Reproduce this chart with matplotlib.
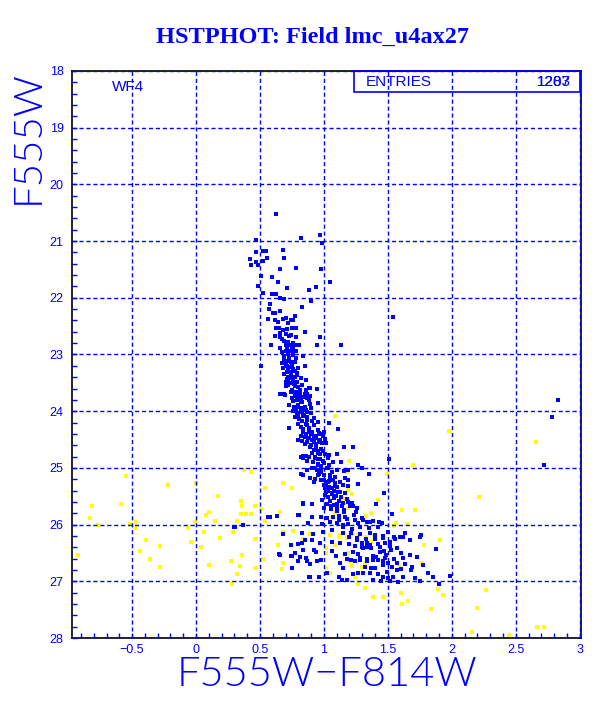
import matplotlib
matplotlib.use("Agg")
import matplotlib.pyplot as plt
from matplotlib.patches import Rectangle
from matplotlib.ticker import MultipleLocator

# ---- data (colour F555W-F814W, magnitude F555W) ----
# good photometry (blue)
blue_color = [
    0.625, 0.966, 0.818, 0.469, 0.987, 0.523, 0.547, 0.677, 0.469, 0.422,
    0.552, 0.687, 0.469, 0.521, 0.430, 0.484, 0.656, 0.784, 0.974, 0.508,
    0.591, 0.643, 1.047, 0.484, 0.708, 0.940, 0.883, 0.523, 0.594, 0.625,
    0.656, 0.685, 0.896, 0.578, 0.568, 0.826, 0.604, 0.620, 0.656, 0.771,
    0.563, 0.617, 0.638, 0.677, 0.703, 0.742, 0.755, 0.716, 0.625, 0.648,
    0.677, 0.708, 0.750, 0.779, 0.849, 0.617, 0.656, 0.672, 0.727, 0.784,
    0.966, 1.133, 0.588, 0.703, 0.734, 0.755, 0.784, 0.805, 0.943, 0.672,
    0.703, 0.734, 0.760, 0.779, 0.690, 0.721, 0.755, 0.838, 0.690, 0.713,
    0.742, 0.776, 0.508, 0.682, 0.713, 0.729, 0.800, 0.854, 0.708, 0.742,
    0.773, 0.786, 0.716, 0.742, 0.773, 0.703, 0.734, 0.766, 0.790, 0.859,
    0.703, 0.776, 0.794, 0.890, 0.747, 0.779, 0.805, 0.865, 0.943, 0.656,
    0.695, 0.812, 0.852, 0.786, 0.820, 0.870, 1.540,
    # 23.5 - 25
    0.716, 0.755, 0.786, 0.800, 0.742, 0.773, 0.812, 0.852, 0.885, 0.656,
    0.688, 0.747, 0.786, 0.820, 0.890, 0.950, 0.730, 0.765, 0.800, 0.817,
    0.860, 0.760, 0.786, 0.825, 0.846, 0.896, 0.773, 0.807, 0.870, 0.950,
    1.040, 0.727, 0.820, 0.864, 0.885, 0.833, 0.890, 0.910, 0.963, 1.002,
    1.112, 0.820, 0.850, 0.872, 0.930, 0.970, 0.995, 0.794, 0.825, 0.910,
    0.937, 0.970, 1.008, 0.852, 0.898, 0.937, 0.982, 0.922, 0.956, 0.969,
    0.995, 1.159, 1.229, 0.838, 0.883, 0.930, 0.956, 0.990, 1.039, 1.104,
    0.870, 0.917, 0.950, 1.000, 1.073, 1.133, 0.820, 0.840, 0.860,
    # 25 - 26
    0.818, 0.865, 0.904, 0.948, 0.974, 1.021, 1.060, 1.099, 1.156, 1.190,
    1.268, 1.294, 1.354, 1.510, 0.890, 0.930, 0.956, 1.003, 1.047, 1.086,
    1.164, 0.922, 1.013, 1.042, 1.086, 1.125, 1.151, 1.190, 1.008, 1.034,
    1.060, 1.078, 1.099, 1.060, 1.094, 1.125, 1.164, 1.008, 1.190, 1.263,
    0.982, 0.904, 1.021, 1.052, 1.099, 1.151, 1.190, 1.229, 1.255, 1.410,
    1.471, 0.833, 1.003, 1.055, 1.104, 1.159, 1.203, 0.578, 0.630, 0.800,
    0.904, 0.974, 1.021, 1.068, 1.120, 1.164, 1.234, 0.833, 0.833, 0.805,
    0.565,
    # 26 - 27.1
    0.305, 0.370, 0.878, 0.982, 1.047, 1.099, 1.146, 1.190, 1.268, 1.307,
    1.333, 1.359, 1.385, 1.432, 1.458, 1.536, 0.825, 0.917, 0.995, 1.060,
    1.151, 1.208, 1.281, 1.359, 1.398, 1.463, 1.502, 1.549, 1.594, 1.633,
    1.763, 0.740, 0.825, 0.904, 0.969, 1.060, 1.125, 1.198, 1.255, 1.294,
    1.333, 1.359, 1.424, 1.476, 1.515, 1.555, 1.620, 1.672, 1.750, 0.651,
    0.747, 0.812, 0.937, 1.060, 1.094, 1.164, 1.229, 1.268, 1.307, 1.333,
    1.385, 1.437, 1.471, 1.489, 1.528, 1.568, 1.599, 1.672, 1.724, 1.875,
    0.794, 0.890, 0.948, 1.125, 1.177, 1.208, 1.242, 1.281, 1.333, 1.385,
    1.424, 1.463, 1.502, 1.568, 1.633, 1.685, 1.776, 0.890, 0.963, 1.021,
    1.138, 1.177, 1.224, 1.268, 1.307, 1.359, 1.424, 1.463, 1.502, 1.541,
    1.620, 1.711, 1.815, 1.854, 1.901, 1.984, 1.568, 1.490, 1.372, 1.151,
    0.297, 0.365, 0.682, 0.826, 0.849, 0.800, 0.659, 0.740, 0.794, 0.747,
    0.867, 0.885, 0.773, 0.836,
    # red outliers
    2.830, 2.780, 2.720,
]
blue_mag = [
    20.53, 20.89, 20.94, 20.98, 21.03, 21.17, 21.17, 21.15, 21.20, 21.32,
    21.29, 21.29, 21.36, 21.35, 21.43, 21.42, 21.49, 21.47, 21.50, 21.62,
    21.63, 21.72, 21.73, 21.79, 21.82, 21.81, 21.87, 21.91, 21.94, 21.93,
    22.00, 22.03, 22.05, 22.11, 22.19, 22.17, 22.26, 22.26, 22.24, 22.32,
    22.37, 22.39, 22.42, 22.38, 22.36, 22.39, 22.39, 22.45, 22.54, 22.53,
    22.57, 22.55, 22.54, 22.53, 22.60, 22.67, 22.70, 22.72, 22.67, 22.70,
    22.70, 22.83, 22.83, 22.84, 22.83, 22.86, 22.83, 22.84, 22.84, 22.95,
    22.94, 22.94, 22.93, 22.94, 23.02, 23.00, 23.01, 23.02, 23.10, 23.12,
    23.13, 23.13, 23.20, 23.23, 23.20, 23.22, 23.23, 23.20, 23.30, 23.30,
    23.29, 23.32, 23.39, 23.41, 23.39, 23.48, 23.50, 23.48, 23.48, 23.45,
    23.56, 23.56, 23.58, 23.59, 23.66, 23.67, 23.67, 23.69, 23.61, 23.70,
    23.71, 23.71, 23.70, 23.76, 23.77, 23.77, 22.34,
    # 23.5 - 25
    23.48, 23.48, 23.48, 23.57, 23.66, 23.69, 23.69, 23.71, 23.59, 23.70,
    23.70, 23.77, 23.80, 23.83, 23.87, 23.85, 23.89, 23.92, 23.89, 23.95,
    23.97, 23.99, 24.03, 23.99, 24.06, 24.04, 24.11, 24.13, 24.10, 24.19,
    24.21, 24.29, 24.27, 24.24, 24.29, 24.36, 24.37, 24.36, 24.39, 24.37,
    24.31, 24.43, 24.46, 24.48, 24.43, 24.40, 24.44, 24.51, 24.52, 24.50,
    24.48, 24.51, 24.49, 24.58, 24.60, 24.57, 24.56, 24.69, 24.71, 24.76,
    24.70, 24.64, 24.63, 24.79, 24.80, 24.81, 24.85, 24.87, 24.77, 24.76,
    24.87, 24.89, 24.95, 24.92, 24.89, 24.89, 24.80, 24.82, 24.79,
    # 25 - 26
    25.11, 25.04, 25.01, 25.04, 25.08, 25.01, 25.08, 25.04, 25.05, 25.03,
    24.95, 25.00, 25.11, 24.85, 25.17, 25.20, 25.13, 25.21, 25.18, 25.16,
    25.17, 25.24, 25.28, 25.23, 25.27, 25.24, 25.30, 25.21, 25.36, 25.40,
    25.36, 25.40, 25.34, 25.46, 25.50, 25.42, 25.45, 25.48, 25.32, 25.28,
    25.56, 25.63, 25.64, 25.67, 25.64, 25.61, 25.60, 25.67, 25.70, 25.64,
    25.45, 25.61, 25.71, 25.73, 25.70, 25.75, 25.68, 25.86, 25.85, 25.83,
    25.86, 25.87, 25.88, 25.87, 25.85, 25.86, 25.83, 25.63, 25.12, 25.83,
    25.86,
    # 26 - 27.1
    26.04, 26.01, 25.98, 25.99, 25.95, 25.98, 26.00, 25.99, 25.97, 25.92,
    25.95, 25.95, 25.93, 25.95, 25.98, 25.81, 26.14, 26.17, 26.13, 26.10,
    26.15, 26.14, 26.17, 26.14, 26.18, 26.20, 26.13, 26.21, 26.21, 26.15,
    26.18, 26.36, 26.33, 26.28, 26.33, 26.30, 26.33, 26.34, 26.28, 26.32,
    26.33, 26.36, 26.35, 26.33, 26.30, 26.26, 26.21, 26.28, 26.21, 26.52,
    26.55, 26.57, 26.48, 26.46, 26.55, 26.52, 26.48, 26.51, 26.42, 26.39,
    26.55, 26.48, 26.46, 26.54, 26.45, 26.42, 26.50, 26.53, 26.57, 26.43,
    26.65, 26.70, 26.65, 26.67, 26.60, 26.63, 26.65, 26.63, 26.65, 26.63,
    26.63, 26.65, 26.67, 26.67, 26.70, 26.74, 26.72, 26.92, 26.92, 26.86,
    26.98, 26.98, 26.87, 26.85, 26.85, 26.86, 26.87, 26.92, 26.95, 26.92,
    26.92, 26.95, 26.86, 26.92, 27.04, 26.91, 26.80, 26.83, 26.77, 26.77,
    26.05, 26.01, 26.17, 26.14, 26.27, 26.35, 26.54, 26.55, 26.65, 26.76,
    26.65, 26.92, 26.50, 26.44,
    # red outliers
    23.80, 24.11, 24.95,
]

# extra stars in the crowded part of the sequence (overlapping marks)
crowd_color = [
    0.66, 0.70, 0.74, 0.69, 0.72, 0.76, 0.66, 0.71, 0.75, 0.69,
    0.73, 0.78, 0.67, 0.70, 0.75, 0.72, 0.76, 0.69, 0.74, 0.79,
    0.71, 0.76, 0.82,
    0.72, 0.77, 0.83, 0.75, 0.81, 0.86, 0.78, 0.84, 0.89, 0.76,
    0.83, 0.88, 0.79, 0.85, 0.90, 0.78, 0.82, 0.87, 0.80, 0.84,
    0.92, 0.83, 0.87, 0.91, 0.80, 0.86, 0.92, 0.84, 0.88, 0.95,
    0.86, 0.90, 0.94, 0.88, 0.92,
    0.87, 0.92, 0.96, 1.02, 0.89, 0.94, 0.98, 0.91, 0.95, 1.01,
    0.93, 0.97, 1.03, 0.95, 0.98, 1.04, 0.93, 0.98, 1.03, 0.96,
    1.00, 1.05, 0.98, 1.03, 1.07, 1.00, 1.04, 1.09, 1.02, 1.06,
    1.11, 1.03, 1.08, 1.13,
    1.05, 1.12, 1.18, 1.08, 1.14, 1.22, 1.10, 1.16, 1.25, 1.12,
    1.18, 1.24, 1.30, 1.15, 1.22, 1.28, 1.35, 1.42, 1.20, 1.26,
    1.33, 1.40, 1.46, 1.24, 1.30, 1.37, 1.44, 1.52, 1.28, 1.34,
    1.41, 1.48, 1.55, 1.62, 1.32, 1.40, 1.46, 1.53, 1.60, 1.68,
    1.38, 1.45, 1.52, 1.58, 1.75, 1.12, 0.98, 0.92, 0.86,
]
crowd_mag = [
    22.62, 22.64, 22.66, 22.76, 22.78, 22.79, 22.88, 22.90, 22.89, 23.05,
    23.07, 23.06, 23.15, 23.17, 23.18, 23.26, 23.25, 23.34, 23.35, 23.36,
    23.44, 23.43, 23.42,
    23.53, 23.52, 23.54, 23.62, 23.63, 23.62, 23.74, 23.75, 23.73, 23.82,
    23.84, 23.81, 23.93, 23.92, 23.94, 24.00, 24.02, 24.01, 24.08, 24.09,
    24.12, 24.17, 24.16, 24.18, 24.22, 24.23, 24.24, 24.32, 24.33, 24.34,
    24.40, 24.41, 24.45, 24.47, 24.48,
    24.55, 24.54, 24.55, 24.56, 24.63, 24.64, 24.66, 24.73, 24.74, 24.75,
    24.83, 24.84, 24.83, 24.93, 24.96, 24.95, 25.00, 25.02, 25.00, 25.10,
    25.12, 25.13, 25.22, 25.24, 25.21, 25.31, 25.33, 25.32, 25.42, 25.44,
    25.43, 25.52, 25.53, 25.51,
    25.58, 25.58, 25.55, 25.66, 25.68, 25.62, 25.76, 25.78, 25.77, 25.92,
    25.90, 25.91, 25.88, 26.05, 26.07, 26.04, 26.06, 26.05, 26.22, 26.24,
    26.25, 26.26, 26.24, 26.38, 26.40, 26.41, 26.40, 26.38, 26.58, 26.60,
    26.57, 26.59, 26.60, 26.59, 26.74, 26.76, 26.72, 26.75, 26.78, 26.80,
    26.98, 27.00, 26.99, 27.01, 27.00, 26.93, 26.62, 26.44, 26.58,
]

# rejected / poor photometry (yellow)
yellow_color = [
    -0.55, -0.22, 0.00, -0.81, -0.59, -0.83, -0.77, -0.52, -0.47, -0.48,
    -0.39, -0.28, -0.44, -0.36, -0.28, -0.92, -0.06, -0.01, -0.04, 0.04,
    0.06, 0.10, 0.17, 0.08, 0.10, 0.15, 0.19, 0.27, 0.28, 0.32,
    0.34, 0.36, 0.35, 0.36, 0.35, 0.39, 0.43, 0.32, 0.375, 0.43,
    0.46, 0.46, 0.46, 0.52, 0.51, 0.54, 0.66, 0.68, 0.75, 0.68,
    0.64, 0.68, 0.67, 0.76, 0.84, 0.54, 0.29, 0.89,
    1.086, 1.00, 0.99, 1.16, 1.20, 1.18, 1.49, 1.70, 0.97, 0.90,
    1.19, 1.22, 1.26, 1.02, 1.15, 1.42, 1.19, 1.09, 1.06, 1.33,
    1.37, 1.61, 1.71, 1.56, 1.55, 1.65, 1.05, 1.125, 1.12, 1.18,
    1.22, 1.27, 1.32, 1.39, 1.02, 1.02, 1.09, 1.19, 1.32, 1.37,
    1.54, 1.61, 1.78, 1.91, 1.20, 1.22, 1.32, 1.30, 1.59, 1.77,
    1.02, 1.05, 1.24, 1.27, 1.32, 1.38, 1.46, 1.60, 1.66, 1.84,
    1.93, 1.89, 1.61, 1.98, 2.21, 2.27, 2.20, 2.16, 2.45, 2.67,
    2.66, 2.72,
]
yellow_mag = [
    25.14, 25.31, 25.27, 25.68, 25.64, 25.88, 26.00, 25.99, 25.96, 26.06,
    26.28, 26.37, 26.46, 26.61, 26.74, 26.53, 26.06, 25.95, 26.31, 26.39,
    26.13, 26.72, 25.49, 25.83, 25.78, 25.93, 26.24, 26.64, 27.05, 26.87,
    26.73, 26.53, 25.58, 25.68, 25.81, 25.82, 25.82, 25.93, 25.04, 25.07,
    25.68, 26.26, 26.77, 26.61, 25.73, 25.36, 25.77, 25.27, 25.36, 26.13,
    26.36, 26.67, 26.79, 26.12, 26.26, 25.93, 26.13, 26.17,
    24.08, 24.38, 24.73, 24.63, 24.87, 25.07, 25.11, 24.94, 25.07, 25.18,
    25.39, 25.46, 25.29, 25.44, 25.55, 25.57, 25.71, 25.79, 25.89, 25.85,
    25.79, 25.75, 25.75, 25.97, 26.02, 25.99, 26.18, 26.18, 26.21, 26.23,
    26.16, 26.19, 26.21, 26.18, 26.42, 26.50, 26.36, 26.50, 26.42, 26.31,
    26.26, 26.21, 26.36, 26.28, 26.65, 26.73, 26.68, 26.74, 26.75, 26.67,
    26.77, 26.86, 26.93, 27.05, 27.12, 27.28, 27.28, 27.21, 27.34, 27.48,
    27.24, 27.14, 27.40, 24.35, 25.51, 27.15, 27.47, 27.90, 27.94, 27.80,
    24.55, 27.80,
]

x_ticks = [-0.5, 0, 0.5, 1, 1.5, 2, 2.5, 3]
x_tick_labels = ["\u22120.5", "0", "0.5", "1", "1.5", "2", "2.5", "3"]
y_ticks = [18, 19, 20, 21, 22, 23, 24, 25, 26, 27, 28]

BLUE = "#0000ff"
YELLOW = "#ffff00"

plt.rcParams["font.family"] = ["Liberation Sans", "DejaVu Sans"]

fig = plt.figure(figsize=(6.12, 7.09), dpi=100)
ax = fig.add_axes([0.1176, 0.1001, 0.8317, 0.7998])

ax.scatter(yellow_color, yellow_mag, s=5, marker="s", color=YELLOW,
           linewidths=0, antialiased=False, zorder=2)
ax.scatter(blue_color + crowd_color, blue_mag + crowd_mag, s=5, marker="s",
           color=BLUE, linewidths=0, antialiased=False, zorder=3)

ax.set_xlim(-0.97, 3.01)
ax.set_ylim(28, 18)

ax.set_xticks(x_ticks)
ax.set_xticklabels(x_tick_labels)
ax.set_yticks(y_ticks)
ax.xaxis.set_minor_locator(MultipleLocator(0.1))
ax.yaxis.set_minor_locator(MultipleLocator(0.2))
ax.tick_params(which="both", direction="in", color=BLUE, labelcolor=BLUE,
               labelsize=9, length=3.5, width=1, top=False, right=False)
ax.tick_params(axis="y", pad=6)
ax.tick_params(axis="x", pad=4)

ax.grid(True, which="major", color=BLUE, linestyle=(0, (3, 2)), linewidth=1)
ax.set_axisbelow(False)
for sp in ax.spines.values():
    sp.set_color("black")
    sp.set_linewidth(1.2)

# stats box and pad label
ax.add_patch(Rectangle((0.554, 0.963), 0.444, 0.037, transform=ax.transAxes,
                       fill=False, edgecolor=BLUE, linewidth=1.2, zorder=5,
                       clip_on=False))
ax.text(0.578, 0.981, "ENTRIES", transform=ax.transAxes, color=BLUE,
        fontsize=11, ha="left", va="center", zorder=6)
ax.text(0.980, 0.981, "1283", transform=ax.transAxes, color=BLUE,
        fontsize=11, ha="right", va="center", zorder=6)
ax.text(0.980, 0.981, "1207", transform=ax.transAxes, color=BLUE,
        fontsize=11, ha="right", va="center", zorder=6)
ax.text(0.078, 0.971, "WF4", transform=ax.transAxes, color=BLUE,
        fontsize=11, ha="left", va="center")

fig.text(0.51, 0.947, "HSTPHOT: Field lmc_u4ax27", color=BLUE,
         fontsize=17.5, fontweight="bold", family="Liberation Serif",
         ha="center", va="center")
fig.text(0.046, 0.807, "F555W", color=BLUE, fontsize=29, fontweight=300,
         family=["Lato", "Liberation Sans"], rotation=90,
         ha="center", va="center")
fig.text(0.534, 0.048, "F555W\u2212F814W", color=BLUE, fontsize=30,
         fontweight=300, family=["Lato", "Liberation Sans"],
         ha="center", va="center")

fig.savefig("out.png", dpi=100)
